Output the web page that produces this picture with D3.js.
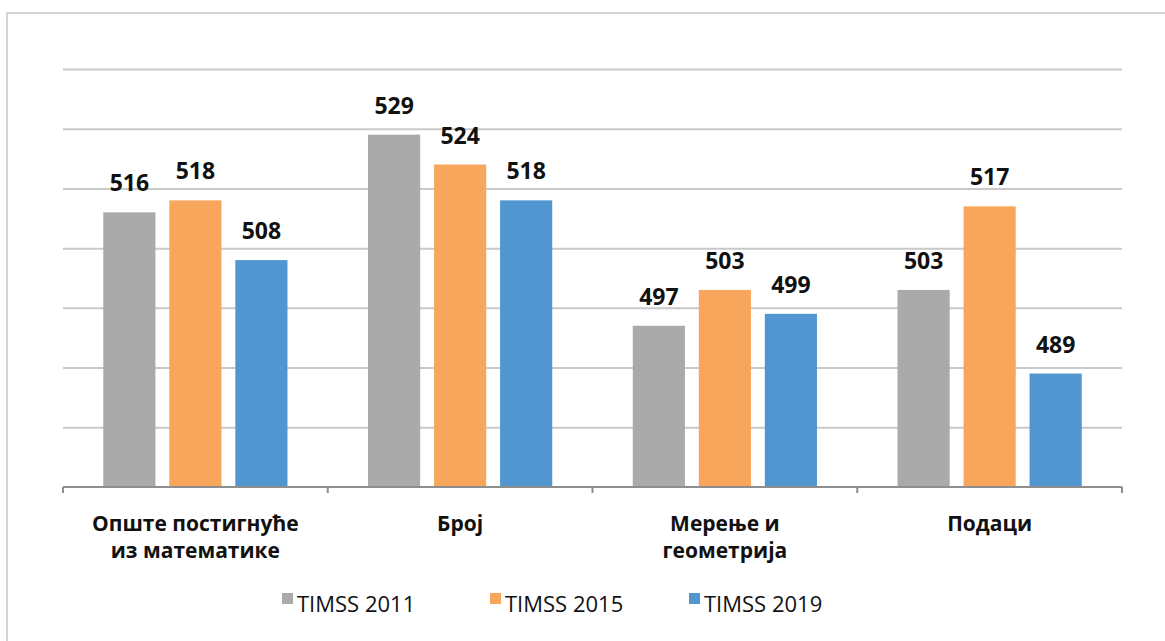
<!DOCTYPE html>
<html>
<head>
<meta charset="utf-8">
<script src="https://cdn.jsdelivr.net/npm/d3@7"></script>
<style>
  body { margin: 0; background: #fff; }
  text { font-family: "Open Sans", "Noto Sans", sans-serif; }
</style>
</head>
<body>
<svg id="chart" width="1165" height="641"></svg>
<script>
const categories = [["Опште постигнуће", "из математике"], ["Број"], ["Мерење и", "геометрија"], ["Подаци"]];
const seriesNames = ["TIMSS 2011", "TIMSS 2015", "TIMSS 2019"];
const timss2011 = [516, 529, 497, 503];
const timss2015 = [518, 524, 503, 517];
const timss2019 = [508, 518, 499, 489];
const colors = ["#a9aaa9", "#f8a65c", "#5196d0"];
const gridTicks = [470, 480, 490, 500, 510, 520, 530, 540];

const svg = d3.select("#chart");
const margin = { top: 69, right: 43, bottom: 154, left: 63 };
const width = +svg.attr("width");
const height = +svg.attr("height");
const chartWidth = width - margin.left - margin.right;
const chartHeight = height - margin.top - margin.bottom;

// outer frame
svg.append("rect")
    .attr("x", 7).attr("y", 13)
    .attr("width", 1170).attr("height", 640)
    .attr("fill", "none")
    .attr("stroke", "#d4d4d4")
    .attr("stroke-width", 2);

const chart = svg.append("g")
    .attr("transform", `translate(${margin.left},${margin.top})`);

const allSeries = [timss2011, timss2015, timss2019];
const catIdx = d3.range(categories.length);

const x0 = d3.scaleBand().domain(catIdx).range([0, chartWidth]).padding(0);
const x1 = d3.scaleBand().domain(d3.range(seriesNames.length))
    .range([0, x0.bandwidth()])
    .paddingInner(0.21)
    .paddingOuter(0.61);
const y = d3.scaleLinear().domain([470, 540]).range([chartHeight, 0]);

// gridlines
chart.append("g")
    .attr("class", "y gridlines")
    .call(d3.axisLeft(y).tickValues(gridTicks.slice(1)).tickSize(-chartWidth).tickFormat(""))
    .call(g => g.select(".domain").remove())
    .call(g => g.selectAll("line").attr("stroke", "#c9c9c9").attr("stroke-width", 2));

// bars
const groups = chart.selectAll("g.cat").data(catIdx)
    .join("g")
    .attr("class", "cat")
    .attr("transform", i => `translate(${x0(i)},0)`);

groups.selectAll("rect")
    .data(i => allSeries.map((s, k) => ({ k: k, v: s[i] })))
    .join("rect")
    .attr("x", d => x1(d.k))
    .attr("y", d => y(d.v))
    .attr("width", x1.bandwidth())
    .attr("height", d => chartHeight - y(d.v))
    .attr("fill", d => colors[d.k]);

groups.selectAll("text.val")
    .data(i => allSeries.map((s, k) => ({ k: k, v: s[i] })))
    .join("text")
    .attr("class", "val")
    .attr("x", d => x1(d.k) + x1.bandwidth() / 2)
    .attr("y", d => y(d.v) - 21)
    .attr("text-anchor", "middle")
    .attr("font-size", 23)
    .attr("font-weight", "bold")
    .attr("fill", "#111")
    .text(d => d.v);

// x axis
const xAxis = chart.append("g")
    .attr("transform", `translate(0,${chartHeight})`);
xAxis.append("line")
    .attr("x1", 0).attr("x2", chartWidth)
    .attr("stroke", "#8e8e8e").attr("stroke-width", 2);
xAxis.selectAll("line.tick")
    .data(d3.range(categories.length + 1))
    .join("line")
    .attr("class", "tick")
    .attr("x1", i => i * x0.step()).attr("x2", i => i * x0.step())
    .attr("y1", 0).attr("y2", 6)
    .attr("stroke", "#8e8e8e").attr("stroke-width", 2);

xAxis.selectAll("text.cat")
    .data(catIdx)
    .join("text")
    .attr("class", "cat")
    .attr("x", i => x0(i) + x0.bandwidth() / 2)
    .attr("y", 44)
    .attr("text-anchor", "middle")
    .attr("font-size", 21)
    .attr("font-weight", "bold")
    .attr("fill", "#111")
    .each(function(i) {
        const t = d3.select(this);
        categories[i].forEach((line, j) => {
            t.append("tspan")
                .attr("x", x0(i) + x0.bandwidth() / 2)
                .attr("dy", j === 0 ? 0 : 27)
                .text(line);
        });
    });

// legend
const legendX = [282, 490, 689];
const legend = svg.append("g").attr("transform", "translate(0,604)");
seriesNames.forEach((name, k) => {
    legend.append("rect")
        .attr("x", legendX[k]).attr("y", -11)
        .attr("width", 11).attr("height", 11)
        .attr("fill", colors[k]);
    legend.append("text")
        .attr("x", legendX[k] + 15).attr("y", 8)
        .attr("font-size", 22)
        .attr("fill", "#111")
        .text(name);
});
</script>
</body>
</html>
